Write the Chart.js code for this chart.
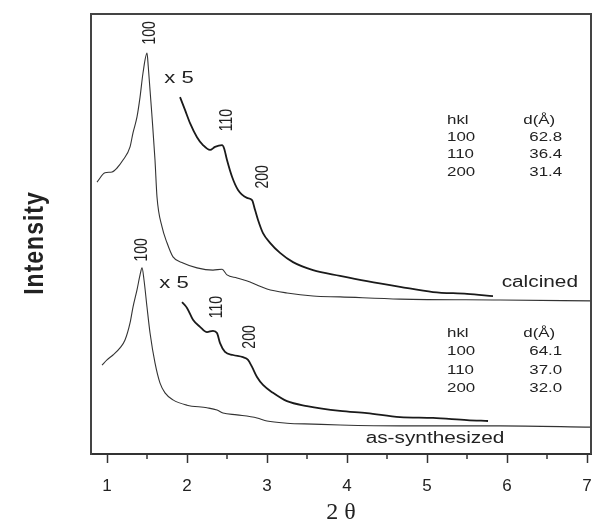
<!DOCTYPE html>
<html>
<head>
<meta charset="utf-8">
<script src="https://cdn.jsdelivr.net/npm/chart.js@4/dist/chart.umd.min.js"></script>
<style>
  html, body { margin: 0; padding: 0; background: #ffffff; }
  #wrap { width: 595px; height: 527px; position: relative; }
</style>
</head>
<body>
<div id="wrap"><canvas id="c" width="595" height="527"></canvas></div>
<script>
// ---- axis ticks ----
const xMajorTicks = [1, 2, 3, 4, 5, 6, 7];
const xMinorTicks = [1.5, 2.5, 3.5, 4.5, 5.5, 6.5];

// ---- calcined: full scan ----
const calcinedX = [0.875, 0.975, 1.063, 1.125, 1.2, 1.288, 1.325, 1.375, 1.413, 1.45, 1.5, 1.516, 1.563, 1.6, 1.625, 1.688, 1.75, 1.825, 1.95, 2.125, 2.325, 2.438, 2.5, 2.625, 2.788, 2.875, 3.0, 3.25, 3.575, 3.913, 4.663, 5.913, 7.05];
const calcinedY = [61.8, 63.9, 64.1, 65.0, 66.8, 69.8, 73.0, 76.6, 81.1, 86.6, 91.1, 88.0, 76.6, 66.8, 58.4, 51.6, 48.0, 44.8, 43.4, 42.3, 41.8, 42.0, 40.7, 40.0, 39.1, 38.4, 37.5, 36.6, 35.9, 35.7, 35.2, 35.0, 34.8];

// ---- calcined: x5 magnified ----
const calcinedX5X = [1.913, 1.975, 2.038, 2.125, 2.2, 2.288, 2.35, 2.438, 2.463, 2.5, 2.563, 2.638, 2.75, 2.813, 2.85, 2.888, 2.95, 3.038, 3.163, 3.325, 3.575, 3.913, 4.25, 4.663, 5.075, 5.5, 5.825];
const calcinedX5Y = [81.1, 78.2, 75.2, 72.0, 70.2, 69.1, 69.8, 70.2, 69.5, 66.8, 63.0, 60.0, 58.2, 57.7, 55.5, 53.2, 50.2, 48.0, 45.7, 43.6, 41.8, 40.5, 39.3, 38.0, 36.8, 36.4, 35.9];

// ---- as-synthesized: full scan ----
const asSynX = [0.938, 1.0, 1.075, 1.163, 1.225, 1.288, 1.325, 1.375, 1.413, 1.438, 1.463, 1.5, 1.538, 1.6, 1.663, 1.725, 1.825, 2.0, 2.25, 2.375, 2.45, 2.625, 2.875, 3.0, 3.25, 3.575, 3.913, 4.663, 5.913, 7.05];
const asSynY = [20.2, 21.4, 22.5, 24.1, 25.9, 29.8, 33.4, 37.3, 40.7, 42.3, 39.5, 33.4, 27.5, 20.7, 16.1, 13.9, 12.3, 11.1, 10.5, 10.0, 9.3, 8.9, 8.2, 7.5, 7.0, 6.8, 6.6, 6.4, 6.4, 6.1];

// ---- as-synthesized: x5 magnified ----
const asSynX5X = [1.938, 2.0, 2.075, 2.163, 2.25, 2.325, 2.375, 2.413, 2.475, 2.575, 2.7, 2.763, 2.813, 2.875, 2.95, 3.075, 3.25, 3.5, 3.913, 4.25, 4.663, 5.075, 5.5, 5.763];
const asSynX5Y = [34.5, 33.2, 30.5, 28.9, 27.7, 28.0, 27.5, 25.2, 23.2, 22.5, 22.0, 21.4, 19.8, 17.5, 15.7, 13.9, 12.0, 10.9, 9.8, 9.3, 8.4, 8.2, 7.7, 7.5];

// ---- text annotations (data coordinates) ----
const peakLabelText = ['100', '110', '200', '100', '110', '200'];
const peakLabelX = [1.538, 2.5, 2.95, 1.438, 2.375, 2.788];
const peakLabelY = [95.7, 75.9, 63.0, 46.4, 33.4, 26.6];
const magLabelText = ['x 5', 'x 5'];
const magLabelX = [1.9, 1.838];
const magLabelY = [85.3, 38.9];
const sampleLabelText = ['calcined', 'as-synthesized'];
const sampleLabelX = [6.41, 5.1];
const sampleLabelY = [38.9, 3.6];

const tableHeader = ['hkl', 'd(Å)'];
const tableCalcinedHkl = ['100', '110', '200'];
const tableCalcinedD = ['62.8', '36.4', '31.4'];
const tableAsSynHkl = ['100', '110', '200'];
const tableAsSynD = ['64.1', '37.0', '32.0'];
const tableCalcinedRowY = [75.9, 72.0, 68.0, 63.9];
const tableAsSynRowY = [27.3, 23.2, 19.1, 15.0];
const tableColHklX = 5.25;
const tableColDX = 6.69;

const xTitle = '2 θ';
const yTitle = 'Intensity';

function pts(xs, ys) { return xs.map((x, i) => ({ x: x, y: ys[i] })); }

const STRETCH = 1.3;
const TEXT_COLOR = '#222';

function drawStretchedText(ctx, text, px, py, font, align, rotate) {
  ctx.save();
  ctx.translate(px, py);
  if (rotate) {
    ctx.rotate(-Math.PI / 2);
    ctx.scale(1, STRETCH);
  } else {
    ctx.scale(STRETCH, 1);
  }
  ctx.font = font;
  ctx.fillStyle = TEXT_COLOR;
  ctx.textAlign = align;
  ctx.textBaseline = 'middle';
  ctx.fillText(text, 0, 0);
  ctx.restore();
}

const decorPlugin = {
  id: 'decor',
  afterDraw(chart) {
    const ctx = chart.ctx;
    const a = chart.chartArea;
    const xs = chart.scales.x, ys = chart.scales.y;
    // frame top/right
    ctx.save();
    ctx.strokeStyle = '#444';
    ctx.lineWidth = 2;
    ctx.beginPath();
    ctx.moveTo(a.left, a.top);
    ctx.lineTo(a.right, a.top);
    ctx.lineTo(a.right, a.bottom);
    ctx.stroke();
    // minor ticks
    ctx.lineWidth = 1.5;
    ctx.strokeStyle = '#333';
    xMinorTicks.forEach(v => {
      const p = xs.getPixelForValue(v);
      ctx.beginPath();
      ctx.moveTo(p, a.bottom);
      ctx.lineTo(p, a.bottom + 5);
      ctx.stroke();
    });
    ctx.restore();

    // peak labels (rotated)
    peakLabelText.forEach((t, i) => {
      drawStretchedText(ctx, t, xs.getPixelForValue(peakLabelX[i]), ys.getPixelForValue(peakLabelY[i]),
        '14px "Liberation Sans", Arial, sans-serif', 'center', true);
    });
    magLabelText.forEach((t, i) => {
      drawStretchedText(ctx, t, xs.getPixelForValue(magLabelX[i]), ys.getPixelForValue(magLabelY[i]),
        '17px "Liberation Sans", Arial, sans-serif', 'center', false);
    });
    sampleLabelText.forEach((t, i) => {
      drawStretchedText(ctx, t, xs.getPixelForValue(sampleLabelX[i]), ys.getPixelForValue(sampleLabelY[i]),
        '16px "Liberation Sans", Arial, sans-serif', 'center', false);
    });
    // tables
    const tf = '13px "Liberation Sans", Arial, sans-serif';
    function table(hkl, d, rows) {
      drawStretchedText(ctx, tableHeader[0], xs.getPixelForValue(tableColHklX), ys.getPixelForValue(rows[0]), tf, 'left', false);
      drawStretchedText(ctx, tableHeader[1], xs.getPixelForValue(tableColDX) - 7, ys.getPixelForValue(rows[0]), tf, 'right', false);
      hkl.forEach((t, i) => {
        drawStretchedText(ctx, t, xs.getPixelForValue(tableColHklX), ys.getPixelForValue(rows[i + 1]), tf, 'left', false);
        drawStretchedText(ctx, d[i], xs.getPixelForValue(tableColDX), ys.getPixelForValue(rows[i + 1]), tf, 'right', false);
      });
    }
    table(tableCalcinedHkl, tableCalcinedD, tableCalcinedRowY);
    table(tableAsSynHkl, tableAsSynD, tableAsSynRowY);

    // y-axis title
    ctx.save();
    ctx.translate(35, (a.top + a.bottom) / 2 + 9);
    ctx.rotate(-Math.PI / 2);
    ctx.scale(1, 1.2);
    try { ctx.letterSpacing = '1px'; } catch (e) {}
    ctx.font = 'bold 23px "Liberation Sans", Arial, sans-serif';
    ctx.fillStyle = TEXT_COLOR;
    ctx.textAlign = 'center';
    ctx.textBaseline = 'middle';
    ctx.fillText(yTitle, 0, 0);
    ctx.restore();
  }
};

const thin = { borderColor: '#333', borderWidth: 1.1, pointRadius: 0, showLine: true, fill: false, cubicInterpolationMode: 'monotone' };
const thick = { borderColor: '#1a1a1a', borderWidth: 1.8, pointRadius: 0, showLine: true, fill: false, cubicInterpolationMode: 'monotone' };

new Chart(document.getElementById('c'), {
  type: 'scatter',
  data: {
    datasets: [
      Object.assign({ label: 'calcined', data: pts(calcinedX, calcinedY) }, thin),
      Object.assign({ label: 'calcined x5', data: pts(calcinedX5X, calcinedX5Y) }, thick),
      Object.assign({ label: 'as-synthesized', data: pts(asSynX, asSynY) }, thin),
      Object.assign({ label: 'as-synthesized x5', data: pts(asSynX5X, asSynX5Y) }, thick)
    ]
  },
  options: {
    responsive: false,
    animation: false,
    layout: { padding: { left: 0, right: 4, top: 14, bottom: 0 } },
    plugins: { legend: { display: false }, tooltip: { enabled: false } },
    scales: {
      x: {
        type: 'linear',
        min: 0.8,
        max: 7.05,
        afterBuildTicks: s => { s.ticks = xMajorTicks.map(v => ({ value: v })); },
        afterFit: s => { s.height = 73; s.paddingLeft = 0; s.paddingRight = 0; },
        grid: { display: true, drawOnChartArea: false, drawTicks: true, tickLength: 9, tickColor: '#333', tickWidth: 1.5 },
        border: { display: true, color: '#333', width: 2 },
        ticks: { color: '#222', padding: 13, font: { family: '"Liberation Sans", Arial, sans-serif', size: 17 }, maxRotation: 0 },
        title: { display: true, text: xTitle, color: '#222', padding: { top: 0, bottom: 0 }, font: { family: '"Liberation Serif", "Times New Roman", serif', size: 24 } }
      },
      y: {
        type: 'linear',
        min: 0,
        max: 100,
        afterFit: s => { s.width = 91; },
        grid: { display: true, drawOnChartArea: false, drawTicks: false },
        border: { display: true, color: '#444', width: 2 },
        ticks: { display: false }
      }
    }
  },
  plugins: [decorPlugin]
});
</script>
</body>
</html>
